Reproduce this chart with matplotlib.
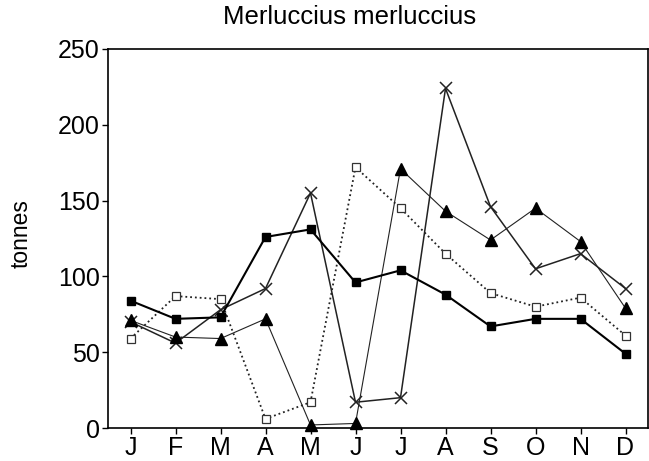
import matplotlib
matplotlib.use("Agg")
import matplotlib.pyplot as plt

months = ["J", "F", "M", "A", "M", "J", "J", "A", "S", "O", "N", "D"]
filled_sq = [84, 72, 73, 126, 131, 96, 104, 88, 67, 72, 72, 49]
open_sq = [59, 87, 85, 6, 17, 172, 145, 115, 89, 80, 86, 61]
triangle = [71, 60, 59, 72, 2, 3, 171, 143, 124, 145, 123, 79]
cross = [70, 56, 78, 92, 155, 17, 20, 224, 146, 105, 115, 92]

plt.rcParams['font.family'] = ['Liberation Sans', 'DejaVu Sans']

W, H = 649, 461
fig = plt.figure(figsize=(W/100, H/100), dpi=100)
ax = fig.add_axes([108/W, 1 - 428/H, (648-108)/W, (428-49)/H])

x = list(range(1, 13))
ax.plot(x, cross, '-', color='#222222', lw=1.1, marker='x', ms=9, mew=1.1, clip_on=False, zorder=3)
ax.plot(x, triangle, '-', color='#222222', lw=0.8, marker='^', ms=9, mfc='black', mec='black', clip_on=False, zorder=4)
ax.plot(x, open_sq, ':', color='#222222', lw=1.3, marker='s', ms=6, mfc='white', mec='#333333', mew=0.9, clip_on=False, zorder=5)
ax.plot(x, filled_sq, '-', color='black', lw=1.5, marker='s', ms=6, mfc='black', mec='black', clip_on=False, zorder=6)

ax.set_xlim(0.5, 12.5)
ax.set_ylim(0, 250)
ax.set_xticks(x)
ax.set_xticklabels(months)
ax.set_yticks([0, 50, 100, 150, 200, 250])
ax.tick_params(axis='both', direction='out', length=4, width=1, labelsize=18, pad=2)
for s in ax.spines.values():
    s.set_linewidth(1.2)

fig.text(21/W, 1 - 234/H, 'tonnes', rotation=90, fontsize=16.5, ha='center', va='center')
fig.text(350/W, 1 - 17/H, 'Merluccius merluccius', fontsize=18.5, ha='center', va='center')

fig.savefig('out.png', dpi=100)
